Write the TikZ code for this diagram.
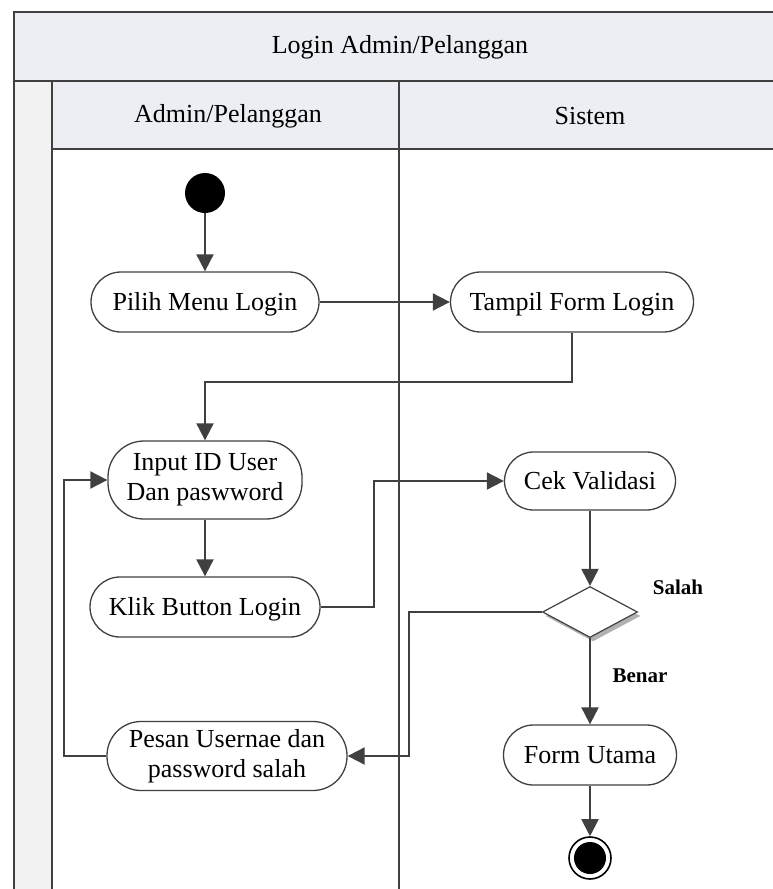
\documentclass[tikz,border=0pt]{standalone}
\usepackage{fontspec}
\setmainfont{Liberation Serif}
\usetikzlibrary{arrows.meta,shapes.geometric,shadows}
\definecolor{lineg}{HTML}{404040}
\definecolor{headg}{HTML}{ECEEF3}
\definecolor{stripg}{HTML}{F2F2F2}
\tikzset{act/.style={draw=lineg, line width=1.3pt, fill=white, rounded corners=30pt,
minimum height=60pt, align=center, font=\fontsize{26}{30}\selectfont},
oneline/.style={text height=22pt, text depth=6pt},
flow/.style={draw=lineg, line width=2pt, -{Triangle[length=17pt,width=17pt]}},
lane/.style={draw=lineg, line width=1.3pt},
guard/.style={font=\fontsize{21}{24}\selectfont\bfseries}}

\begin{document}
\begin{tikzpicture}[x=1pt,y=-1pt]
				\useasboundingbox (0,0) rectangle (773,889);
				% swimlanes
				\fill[headg] (14,12) rectangle (773,81);
				\fill[headg] (52,81) rectangle (773,149);
				\fill[stripg] (14,81) rectangle (52,889);
				\draw[lane] (773,12) -- (14,12) -- (14,889);
				\draw[lane] (14,81) -- (773,81);
				\draw[lane] (52,149) -- (773,149);
				\draw[lane] (52,81) -- (52,889);
				\draw[lane] (399,81) -- (399,889);
				\node[font=\fontsize{26}{30}\selectfont] (title) at (400,47) {Login Admin/Pelanggan};
				\node[font=\fontsize{26}{30}\selectfont] (laneuser) at (228,116) {Admin/Pelanggan};
				\node[font=\fontsize{26}{30}\selectfont] (lanesys) at (590,116) {Sistem};
				% activities
				\node[circle, fill=black, minimum size=40pt, inner sep=0pt] (start) at (205,193) {};
				\node[act, oneline, minimum width=228pt] (pilih) at (205,302) {Pilih Menu Login};
				\node[act, oneline, minimum width=243pt] (tampil) at (572,302) {Tampil Form Login};
				\node[act, minimum width=194pt, minimum height=78pt, rounded corners=36pt] (input) at (205,480) {Input ID User\\Dan paswword};
				\node[act, oneline, minimum width=230pt] (klik) at (205,607) {Klik Button Login};
				\node[act, oneline, minimum width=171pt, minimum height=58pt, rounded corners=29pt] (cek) at (590,481) {Cek Validasi};
				\node[diamond, draw=lineg, line width=1.2pt, fill=white, minimum width=95pt, minimum height=51pt,
				  inner sep=0pt, drop shadow={shadow xshift=3pt, shadow yshift=-4pt, fill=black!60}] (cekvalid) at (590,612) {};
				\node[act, oneline, minimum width=173pt] (utama) at (590,755) {Form Utama};
				\node[act, minimum width=240pt, minimum height=69pt, rounded corners=34pt] (pesan) at (227,756) {Pesan Usernae dan\\password salah};
				\node[circle, draw=black, line width=1.6pt, minimum size=42pt, inner sep=0pt,
				  path picture={\fill[black] (path picture bounding box.center) circle (16pt);}] (finish) at (590,858) {};
				\node[guard] (salah) at (678,587) {Salah};
				\node[guard] (benar) at (640,676) {Benar};
				% flows
				\draw[flow] (start) -- (pilih);
				\draw[flow] (pilih) -- (tampil);
				\draw[flow] (tampil.south) -- ++(0,49) -| (input.north);
				\draw[flow] (input) -- (klik);
				\draw[flow] (klik.east) -- ++(53,0) |- (cek.west);
				\draw[flow] (cek) -- (cekvalid);
				\draw[flow] (cekvalid.west) -- ++(-133,0) |- (pesan.east);
				\draw[flow] (cekvalid.south) -- (utama);
				\draw[flow] (utama) -- (finish);
				\draw[flow] (pesan.west) -- ++(-42,0) |- (input.west);
			\end{tikzpicture}
\end{document}
